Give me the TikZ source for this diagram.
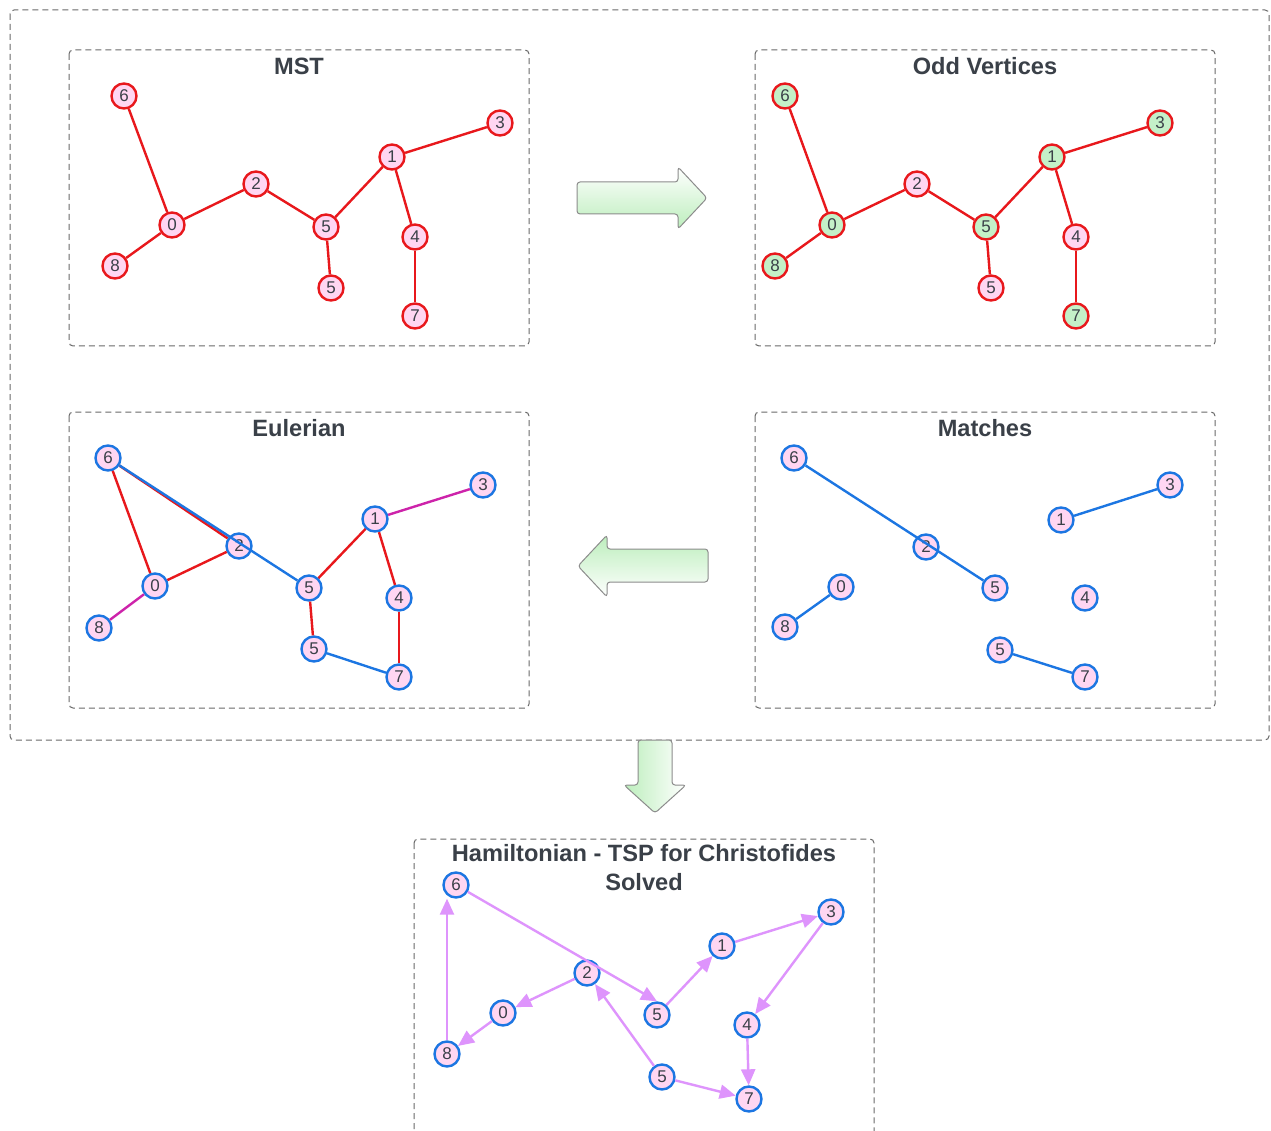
\documentclass[tikz,border=0pt]{standalone}
\usepackage{fontspec}
\setmainfont{Liberation Sans}
\usetikzlibrary{arrows.meta}

\definecolor{edgered}{RGB}{232,24,28}
\definecolor{edgeblue}{RGB}{28,118,226}
\definecolor{edgemag}{RGB}{205,35,170}
\definecolor{tourviolet}{RGB}{222,148,252}
\definecolor{nodepink}{RGB}{255,214,242}
\definecolor{nodegreen}{RGB}{196,240,200}
\definecolor{titlegrey}{RGB}{58,64,72}
\definecolor{framegrey}{RGB}{105,105,105}
\definecolor{arrowgreen}{RGB}{188,238,188}

\tikzset{
  vtx/.style={circle, minimum size=25pt, inner sep=0pt, line width=2.4pt,
    fill=nodepink, text=titlegrey, font=\fontsize{17}{17}\selectfont},
  redv/.style={vtx, draw=edgered},
  bluev/.style={vtx, draw=edgeblue},
  greenv/.style={redv, fill=nodegreen},
  panel/.style={draw=framegrey, dash pattern=on 6pt off 4pt, line width=1pt, rounded corners=4pt},
  ptitle/.style={font=\fontsize{23.6}{29}\selectfont\bfseries, text=titlegrey, align=center},
  redE/.style={draw=edgered, line width=2.4pt},
  blueE/.style={draw=edgeblue, line width=2.4pt},
  magE/.style={draw=edgemag, line width=2.4pt},
  tourE/.style={draw=tourviolet, line width=2.4pt, -{Triangle[length=16pt,width=14pt]}},
  bigarrow/.style={draw=gray!90, line width=1pt, rounded corners=3pt},
}

\begin{document}
\begin{tikzpicture}[x=1pt, y=-1pt]
  \path[use as bounding box, fill=white] (0,0) rectangle (1271,1131);
  \clip (0,0) rectangle (1271,1131);

  % outer frame and panels
  \draw[panel] (10,10) rectangle (1269,740);
  \draw[panel] (69,50) rectangle (529,346);
  \draw[panel] (755,50) rectangle (1215,346);
  \draw[panel] (69,412) rectangle (529,708);
  \draw[panel] (755,412) rectangle (1215,708);
  \draw[panel] (414,839) rectangle (874,1150);

  \node[ptitle] (tmst) at (299,66) {MST};
  \node[ptitle] (todd) at (985,66) {Odd Vertices};
  \node[ptitle] (teul) at (299,428) {Eulerian};
  \node[ptitle] (tmat) at (985,428) {Matches};
  \node[ptitle] (tham) at (644,868) {Hamiltonian - TSP for Christofides\\Solved};

  % block arrows between stages
  \draw[bigarrow, top color=white, bottom color=arrowgreen]
    (577,182) -- (678,182) -- (678,167) -- (707,198) -- (678,229) -- (678,214) -- (577,214) -- cycle;
  \draw[bigarrow, top color=arrowgreen, bottom color=white]
    (708,549) -- (607,549) -- (607,535) -- (578,566) -- (607,597) -- (607,582) -- (708,582) -- cycle;
  \draw[bigarrow, left color=arrowgreen, right color=white]
    (638,740) -- (638,785) -- (624,785) -- (655,813) -- (686,785) -- (672,785) -- (672,740) -- cycle;

  % ---- MST ----
  \node[redv] (m6) at (124,96) {6};
  \node[redv] (m3) at (500,123) {3};
  \node[redv] (m1) at (392,157) {1};
  \node[redv] (m2) at (256,184) {2};
  \node[redv] (m0) at (172,225) {0};
  \node[redv] (m5) at (326,227) {5};
  \node[redv] (m4) at (415,237) {4};
  \node[redv] (m8) at (115,266) {8};
  \node[redv] (mq) at (331,288) {5};
  \node[redv] (m7) at (415,316) {7};
  \draw[redE] (m6) -- (m0);
  \draw[redE] (m8) -- (m0);
  \draw[redE] (m0) -- (m2);
  \draw[redE] (m2) -- (m5);
  \draw[redE] (m5) -- (m1);
  \draw[redE] (m1) -- (m3);
  \draw[redE] (m1) -- (m4);
  \draw[redE] (m4) -- (m7);
  \draw[redE] (m5) -- (mq);

  % ---- Odd vertices ----
  \node[greenv] (o6) at (785,96) {6};
  \node[greenv] (o3) at (1160,123) {3};
  \node[greenv] (o1) at (1052,157) {1};
  \node[redv]   (o2) at (917,184) {2};
  \node[greenv] (o0) at (832,225) {0};
  \node[greenv] (o5) at (986,227) {5};
  \node[redv]   (o4) at (1076,237) {4};
  \node[greenv] (o8) at (775,266) {8};
  \node[redv]   (oq) at (991,288) {5};
  \node[greenv] (o7) at (1076,316) {7};
  \draw[redE] (o6) -- (o0);
  \draw[redE] (o8) -- (o0);
  \draw[redE] (o0) -- (o2);
  \draw[redE] (o2) -- (o5);
  \draw[redE] (o5) -- (o1);
  \draw[redE] (o1) -- (o3);
  \draw[redE] (o1) -- (o4);
  \draw[redE] (o4) -- (o7);
  \draw[redE] (o5) -- (oq);

  % ---- Eulerian ----
  \node[bluev] (e6) at (108,458) {6};
  \node[bluev] (e3) at (483,485) {3};
  \node[bluev] (e1) at (375,519) {1};
  \node[bluev] (e2) at (239,546) {2};
  \node[bluev] (e0) at (155,586) {0};
  \node[bluev] (e5) at (309,588) {5};
  \node[bluev] (e4) at (399,598) {4};
  \node[bluev] (e8) at (99,628) {8};
  \node[bluev] (eq) at (314,649) {5};
  \node[bluev] (e7) at (399,677) {7};
  \draw[redE] (e6) -- (e0);
  \draw[redE] (e6) -- (e2);
  \draw[redE] (e0) -- (e2);
  \draw[magE] (e8) -- (e0);
  \draw[redE] (e5) -- (e1);
  \draw[magE] (e1) -- (e3);
  \draw[redE] (e1) -- (e4);
  \draw[redE] (e4) -- (e7);
  \draw[redE] (e5) -- (eq);
  \draw[blueE] (eq) -- (e7);
  \draw[blueE] (e6) -- (e5);

  % ---- Matches ----
  \node[bluev] (x6) at (794,458) {6};
  \node[bluev] (x3) at (1170,485) {3};
  \node[bluev] (x1) at (1061,520) {1};
  \node[bluev] (x2) at (926,547) {2};
  \node[bluev] (x0) at (841,587) {0};
  \node[bluev] (x5) at (995,588) {5};
  \node[bluev] (x4) at (1085,598) {4};
  \node[bluev] (x8) at (785,627) {8};
  \node[bluev] (xq) at (1000,650) {5};
  \node[bluev] (x7) at (1085,677) {7};
  \draw[blueE] (x1) -- (x3);
  \draw[blueE] (x8) -- (x0);
  \draw[blueE] (xq) -- (x7);
  \draw[blueE] (x6) -- (x5);

  % ---- Hamiltonian tour ----
  \node[bluev] (h6) at (456,885) {6};
  \node[bluev] (h3) at (831,912) {3};
  \node[bluev] (h1) at (722,946) {1};
  \node[bluev] (h2) at (587,973) {2};
  \node[bluev] (h0) at (503,1013) {0};
  \node[bluev] (h5) at (657,1015) {5};
  \node[bluev] (h4) at (747,1025) {4};
  \node[bluev] (h8) at (447,1054) {8};
  \node[bluev] (hq) at (662,1077) {5};
  \node[bluev] (h7) at (749,1099) {7};
  \draw[tourE] (h6) -- (h5.north);
  \draw[tourE] (h5) -- (h1);
  \draw[tourE] (h1) -- (h3);
  \draw[tourE] (h3) -- (h4);
  \draw[tourE] (h4) -- (h7);
  \draw[tourE] (hq) -- (h7);
  \draw[tourE] (hq) -- (h2);
  \draw[tourE] (h2) -- (h0);
  \draw[tourE] (h0) -- (h8);
  \draw[tourE] (h8) -- (h8 |- h6.south);
\end{tikzpicture}
\end{document}
